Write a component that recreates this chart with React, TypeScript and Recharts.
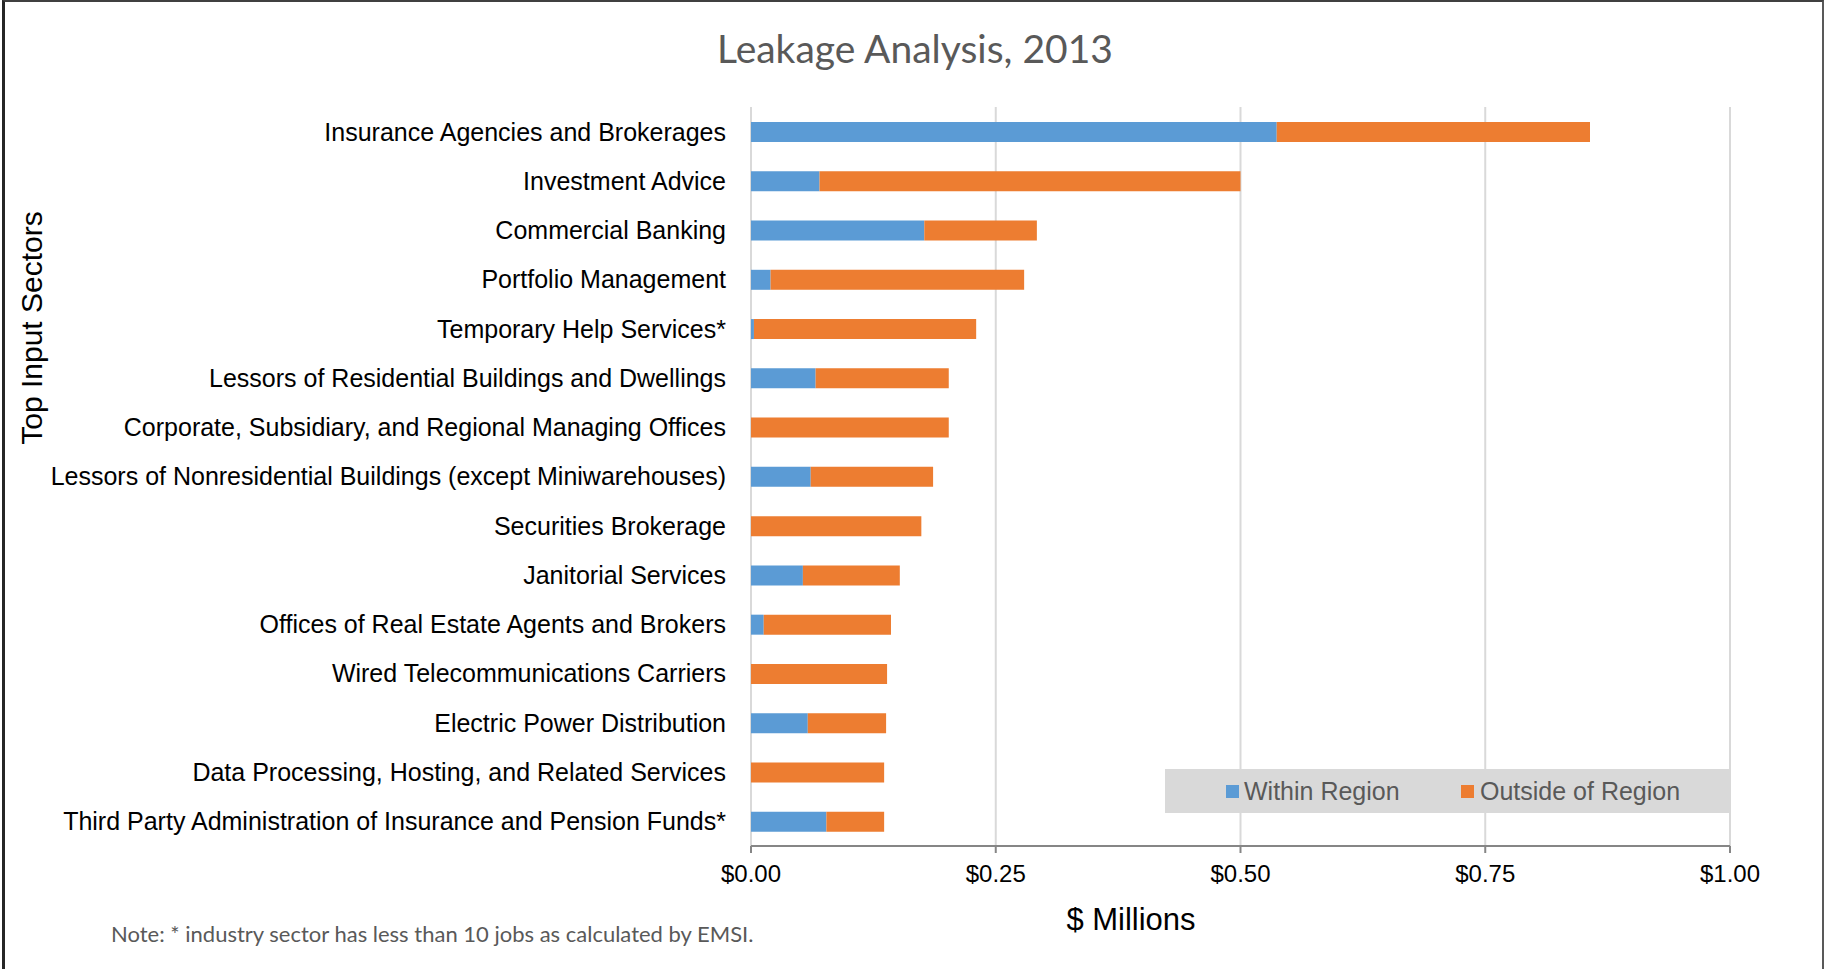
import React from "react";
import { Bar, BarChart, CartesianGrid, XAxis, YAxis } from "recharts";

const sectors = [
  "Insurance Agencies and Brokerages",
  "Investment Advice",
  "Commercial Banking",
  "Portfolio Management",
  "Temporary Help Services*",
  "Lessors of Residential Buildings and Dwellings",
  "Corporate, Subsidiary, and Regional Managing Offices",
  "Lessors of Nonresidential Buildings (except Miniwarehouses)",
  "Securities Brokerage",
  "Janitorial Services",
  "Offices of Real Estate Agents and Brokers",
  "Wired Telecommunications Carriers",
  "Electric Power Distribution",
  "Data Processing, Hosting, and Related Services",
  "Third Party Administration of Insurance and Pension Funds*",
];

// $ millions
const withinRegion = [0.537, 0.07, 0.177, 0.02, 0.003, 0.066, 0, 0.061, 0, 0.053, 0.013, 0, 0.058, 0, 0.077];
const outsideRegion = [0.32, 0.43, 0.115, 0.259, 0.227, 0.136, 0.202, 0.125, 0.174, 0.099, 0.13, 0.139, 0.08, 0.136, 0.059];

const xTicks = [0, 0.25, 0.5, 0.75, 1];

const BLUE = "#5b9bd5";
const ORANGE = "#ed7d31";

const data = sectors.map((name, i) => ({
  name,
  within: withinRegion[i],
  outside: outsideRegion[i],
}));

const sans = "'Liberation Sans', Arial, sans-serif";

export default function App() {
  return (
    <div style={{ position: "absolute", left: 0, top: 0, width: 1827, height: 969, background: "#fff", overflow: "hidden" }}>
      <BarChart
        width={1827}
        height={969}
        data={data}
        layout="vertical"
        margin={{ top: 107, right: 97, bottom: 0, left: 0 }}
      >
        <CartesianGrid horizontal={false} stroke="#d9d9d9" strokeWidth={2} />
        <XAxis
          type="number"
          domain={[0, 1]}
          ticks={xTicks}
          tickFormatter={(v: number) => `$${v.toFixed(2)}`}
          height={123}
          axisLine={{ stroke: "#868686", strokeWidth: 2 }}
          tickLine={{ stroke: "#868686", strokeWidth: 2 }}
          tickSize={7}
          tickMargin={12}
          tick={{ fill: "#000", fontSize: 24, fontFamily: sans }}
        />
        <YAxis
          type="category"
          dataKey="name"
          width={751}
          axisLine={false}
          tickLine={false}
          tickSize={0}
          tickMargin={25}
          interval={0}
          tick={{ fill: "#000", fontSize: 25, fontFamily: sans }}
        />
        <Bar dataKey="within" stackId="a" fill={BLUE} barSize={20} isAnimationActive={false} />
        <Bar dataKey="outside" stackId="a" fill={ORANGE} barSize={20} isAnimationActive={false} />
      </BarChart>

      {/* title */}
      <div
        style={{
          position: "absolute", left: 615, width: 600, top: 25, textAlign: "center",
          fontFamily: "Lato, sans-serif", fontSize: 39, lineHeight: "46px", color: "#595959",
        }}
      >
        Leakage Analysis, 2013
      </div>

      {/* y axis title */}
      <div
        style={{
          position: "absolute", left: 32 - 150, top: 328 - 18, width: 300, height: 36,
          lineHeight: "36px", textAlign: "center", transform: "rotate(-90deg)",
          fontFamily: sans, fontSize: 30, color: "#000",
        }}
      >
        Top Input Sectors
      </div>

      {/* x axis title */}
      <div
        style={{
          position: "absolute", left: 1131 - 150, width: 300, top: 902, textAlign: "center",
          fontFamily: sans, fontSize: 31, lineHeight: "36px", color: "#000",
        }}
      >
        $ Millions
      </div>

      {/* note */}
      <div
        style={{
          position: "absolute", left: 111, top: 921, whiteSpace: "nowrap",
          fontFamily: "Lato, sans-serif", fontSize: 22, lineHeight: "26px", color: "#595959",
        }}
      >
        Note: * industry sector has less than 10 jobs as calculated by EMSI.
      </div>

      {/* legend */}
      <div
        style={{
          position: "absolute", left: 1165, top: 769, width: 565, height: 44, background: "#d9d9d9",
          fontFamily: sans, fontSize: 25, color: "#595959",
        }}
      >
        <span style={{ position: "absolute", left: 61, top: 16, width: 13, height: 13, background: BLUE }} />
        <span style={{ position: "absolute", left: 79, top: 7, lineHeight: "30px", whiteSpace: "nowrap" }}>Within Region</span>
        <span style={{ position: "absolute", left: 296, top: 16, width: 13, height: 13, background: ORANGE }} />
        <span style={{ position: "absolute", left: 315, top: 7, lineHeight: "30px", whiteSpace: "nowrap" }}>Outside of Region</span>
      </div>

      {/* frame */}
      <div
        style={{
          position: "absolute", left: 2, top: 0, width: 1822, height: 969, boxSizing: "border-box",
          borderLeft: "3px solid #262626", borderTop: "2px solid #404040", borderRight: "2px solid #595959",
          pointerEvents: "none",
        }}
      />
    </div>
  );
}
